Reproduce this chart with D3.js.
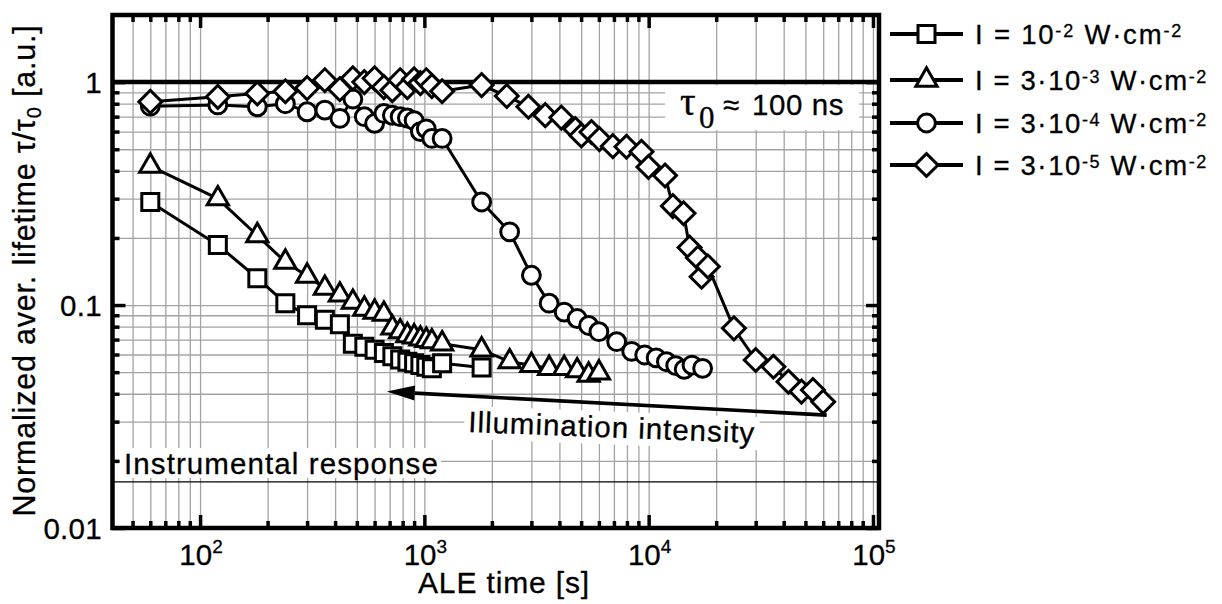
<!DOCTYPE html>
<html>
<head>
<meta charset="utf-8">
<script src="https://cdn.jsdelivr.net/npm/d3@7"></script>
<style>
  body { margin: 0; background: #fff; }
  svg { display: block; }
  text { font-family: "Liberation Sans", Arial, Helvetica, sans-serif; fill: #000; stroke: #000; stroke-width: 0.3px; }
</style>
</head>
<body>
<svg id="chart" width="1222" height="604"></svg>
<script>
// ---- data: normalized average lifetime vs. ALE time, four illumination intensities ----
const sqTime  = [60,120,180,240,300,360,420,480,540,600,660,720,780,840,900,960,1020,1080,1200,1800];
const sqValue = [0.290,0.186,0.132,0.102,0.090,0.086,0.082,0.067,0.065,0.063,0.061,0.059,0.057,0.0557,0.0548,0.0538,0.0529,0.052,0.0548,0.0525];

const triTime  = [60,120,180,240,300,360,420,480,540,600,660,720,780,840,900,960,1020,1080,1200,1800,2400,3000,3600,4200,4800,5400,6000];
const triValue = [0.42,0.30,0.205,0.156,0.135,0.119,0.111,0.103,0.096,0.093,0.091,0.079,0.076,0.073,0.072,0.0705,0.0695,0.0685,0.067,0.063,0.0557,0.0537,0.052,0.052,0.0508,0.0485,0.0497];

const cirTime  = [60,120,180,240,300,360,420,480,540,600,660,720,780,840,900,960,1020,1080,1200,1800,2400,3000,3600,4200,4800,5400,6000,7200,8400,9600,10800,12000,13200,14400,15600,17400];
const cirValue = [0.78,0.79,0.775,0.80,0.736,0.749,0.688,0.84,0.70,0.653,0.724,0.71,0.70,0.69,0.672,0.60,0.617,0.559,0.559,0.290,0.213,0.136,0.102,0.093,0.087,0.081,0.076,0.0685,0.062,0.0597,0.058,0.0557,0.0535,0.0515,0.0538,0.052];

const diaTime  = [60,120,180,240,300,360,420,480,540,600,660,720,780,840,900,960,1020,1080,1200,1800,2330,2910,3460,4080,4710,5010,5560,6030,6920,7960,9290,9980,11830,12820,14310,15220,16580,17220,18370,24000,30000,36000,42000,48000,54000,60000];
const diaValue = [0.816,0.859,0.889,0.91,0.94,1.02,0.93,1.04,1.0,1.04,0.95,0.92,1.02,0.95,1.03,0.99,1.02,0.96,0.91,0.97,0.866,0.775,0.711,0.693,0.616,0.576,0.597,0.555,0.516,0.513,0.487,0.416,0.381,0.278,0.258,0.181,0.163,0.134,0.149,0.0786,0.0567,0.0529,0.0453,0.0409,0.0416,0.0368];

const seriesPrefix   = ["I = ", "I = 3\u00b7", "I = 3\u00b7", "I = 3\u00b7"];
const seriesExponent = ["-2", "-3", "-4", "-5"];
const seriesSymbol   = ["square", "triangle", "circle", "diamond"];

const xMajorTicks  = [1e2, 1e3, 1e4, 1e5];
const xTickExp     = ["2", "3", "4", "5"];
const yMajorTicks  = [0.01, 0.1, 1];
const yTickLabels  = ["0.01", "0.1", "1"];

const tau0Level        = 1;
const instrumentLevel  = 0.0161;
// annotation anchors in data units
const instrumentTextAt = [45.8, 0.01747];
const tauTextAt        = [13800, 0.711];
const arrowFrom        = [62200, 0.0321];
const arrowTo          = [680, 0.0409];
const illumTextAt      = [1566, 0.02695];

// ---- layout ----
const plot = { left: 112.5, right: 879, top: 15, bottom: 528 };
const x = d3.scaleLog().domain([40.7, 1.064e5]).range([plot.left, plot.right]);
const y = d3.scaleLog().domain([0.01, 2]).range([plot.bottom, plot.top]);

const svg = d3.select("#chart");

function decadeValues(lo, hi, dom) {
  const out = [];
  for (let e = lo; e <= hi; e++)
    for (let m = 1; m <= 9; m++) {
      const v = +(m * Math.pow(10, e)).toPrecision(6);
      if (v > dom[0] * 1.0001 && v < dom[1] * 0.9999) out.push(v);
    }
  return out;
}
const xGrid = decadeValues(1, 5, x.domain());
const yGrid = decadeValues(-2, 0, y.domain());
const isMajor = v => Math.abs(Math.log10(v) - Math.round(Math.log10(v))) < 1e-6;

// ---- grid ----
const gridColor = "#a3a3a3";
svg.append("g")
  .attr("transform", `translate(0,${plot.bottom})`)
  .call(d3.axisBottom(x).tickValues(xGrid).tickSize(-(plot.bottom - plot.top)).tickFormat(""))
  .call(g => g.select(".domain").remove())
  .call(g => g.selectAll("line").attr("stroke", gridColor).attr("stroke-width", 1.3));
svg.append("g")
  .attr("transform", `translate(${plot.left},0)`)
  .call(d3.axisLeft(y).tickValues(yGrid).tickSize(-(plot.right - plot.left)).tickFormat(""))
  .call(g => g.select(".domain").remove())
  .call(g => g.selectAll("line").attr("stroke", gridColor).attr("stroke-width", 1.3));

// helper: spread letters so a text run spans a given width
function fitWidth(sel, target) {
  const node = sel.node();
  const w = node.getComputedTextLength();
  const n = node.getNumberOfChars();
  sel.style("letter-spacing", ((target - w) / n) + "px");
  return sel;
}

// ---- annotation boxes & texts (white background hides the grid) ----
const annot = svg.append("g");

// Instrumental response
const instrG = annot.append("g");
const instrText = instrG.append("text")
  .attr("x", x(instrumentTextAt[0])).attr("y", y(instrumentTextAt[1]))
  .attr("font-size", 29.5).text("Instrumental response");
fitWidth(instrText, 315);
{
  const b = instrText.node().getBBox();
  instrG.insert("rect", "text").attr("x", b.x - 4).attr("y", b.y + 1)
    .attr("width", b.width + 6).attr("height", b.height - 3).attr("fill", "#fff");
}

// tau0 label
const tauG = annot.append("g");
const tx = x(tauTextAt[0]), ty = y(tauTextAt[1]);
const tauText = tauG.append("text").attr("y", ty);
tauText.append("tspan").attr("x", tx).style("font-family", "'Liberation Serif','Times New Roman',serif")
  .attr("font-size", 39).text("\u03c4");
tauText.append("tspan").attr("x", tx + 19).attr("dy", 13).style("font-family", "'Liberation Serif','Times New Roman',serif")
  .attr("font-size", 31).text("0");
tauText.append("tspan").attr("x", tx + 43).attr("dy", -13).attr("font-size", 29.5).text("\u2248");
tauText.append("tspan").attr("x", tx + 72).attr("font-size", 29.5).style("letter-spacing", "0.6px").text("100 ns");
{
  const b = tauText.node().getBBox();
  tauG.insert("rect", "text").attr("x", b.x - 15).attr("y", y(tau0Level) + 3)
    .attr("width", b.width + 30).attr("height", 45).attr("fill", "#fff");
}

// ---- reference lines ----
svg.append("line")
  .attr("x1", plot.left).attr("x2", plot.right)
  .attr("y1", y(tau0Level)).attr("y2", y(tau0Level))
  .attr("stroke", "#000").attr("stroke-width", 4.5);
svg.append("line")
  .attr("x1", plot.left).attr("x2", plot.right)
  .attr("y1", y(instrumentLevel)).attr("y2", y(instrumentLevel))
  .attr("stroke", "#000").attr("stroke-width", 1.4);

// Illumination intensity label (slightly tilted) with white box
const illumG = svg.append("g")
  .attr("transform", `translate(${x(illumTextAt[0])},${y(illumTextAt[1])}) rotate(2.2)`);
const illumText = illumG.append("text").attr("x", 0).attr("y", 0)
  .attr("font-size", 29.5).text("Illumination intensity");
fitWidth(illumText, 287);
{
  const b = illumText.node().getBBox();
  illumG.insert("rect", "text").attr("x", b.x - 4).attr("y", b.y + 1)
    .attr("width", b.width + 8).attr("height", b.height).attr("fill", "#fff");
}

// arrow
{
  const x1 = x(arrowFrom[0]), y1 = y(arrowFrom[1]);
  const x2 = x(arrowTo[0]), y2 = y(arrowTo[1]);
  const ang = Math.atan2(y2 - y1, x2 - x1);
  const headLen = 28, headHalf = 7.5;
  const bx = x2 - headLen * Math.cos(ang), by = y2 - headLen * Math.sin(ang);
  svg.append("line").attr("x1", x1).attr("y1", y1).attr("x2", bx).attr("y2", by)
    .attr("stroke", "#000").attr("stroke-width", 3.6);
  const px = -Math.sin(ang), py = Math.cos(ang);
  svg.append("path")
    .attr("d", `M${x2},${y2}L${bx + px * headHalf},${by + py * headHalf}L${bx - px * headHalf},${by - py * headHalf}Z`)
    .attr("fill", "#000");
}

// ---- series ----
const symbolPath = {
  square:   d3.symbol().type(d3.symbolSquare).size(289)(),
  triangle: d3.symbol().type(d3.symbolTriangle).size(195)(),
  circle:   d3.symbol().type(d3.symbolCircle).size(250)(),
  diamond:  d3.symbol().type(d3.symbolSquare).size(262)()
};
const symbolRotate = { square: 0, triangle: 0, circle: 0, diamond: 45 };

const series = [
  { t: sqTime,  v: sqValue },
  { t: triTime, v: triValue },
  { t: cirTime, v: cirValue },
  { t: diaTime, v: diaValue }
];

const line = d3.line().x(d => x(d[0])).y(d => y(d[1]));

series.forEach((s, i) => {
  const pts = s.t.map((t, k) => [t, s.v[k]]);
  const g = svg.append("g");
  g.append("path").datum(pts).attr("d", line)
    .attr("fill", "none").attr("stroke", "#000").attr("stroke-width", 3).attr("stroke-linejoin", "round");
  g.selectAll("path.mk").data(pts).join("path").attr("class", "mk")
    .attr("d", symbolPath[seriesSymbol[i]])
    .attr("transform", d => `translate(${x(d[0])},${y(d[1])}) rotate(${symbolRotate[seriesSymbol[i]]})`)
    .attr("fill", "#fff").attr("stroke", "#000").attr("stroke-width", 3);
});

// ---- ticks (inward on all four sides) ----
const xMinor = xGrid.filter(v => !isMajor(v));
const yMinor = yGrid.filter(v => !isMajor(v));
function tickGroup(axisGen, transform) {
  svg.append("g").attr("transform", transform).call(axisGen)
    .call(g => g.select(".domain").remove())
    .call(g => g.selectAll("line").attr("stroke", "#000").attr("stroke-width", 3.5));
}
tickGroup(d3.axisBottom(x).tickValues(xMinor).tickSize(-7).tickFormat(""), `translate(0,${plot.bottom})`);
tickGroup(d3.axisBottom(x).tickValues(xMajorTicks).tickSize(-13).tickFormat(""), `translate(0,${plot.bottom})`);
tickGroup(d3.axisTop(x).tickValues(xMinor).tickSize(-7).tickFormat(""), `translate(0,${plot.top})`);
tickGroup(d3.axisTop(x).tickValues(xMajorTicks).tickSize(-13).tickFormat(""), `translate(0,${plot.top})`);
tickGroup(d3.axisLeft(y).tickValues(yMinor).tickSize(-7).tickFormat(""), `translate(${plot.left},0)`);
tickGroup(d3.axisLeft(y).tickValues(yMajorTicks).tickSize(-13).tickFormat(""), `translate(${plot.left},0)`);
tickGroup(d3.axisRight(y).tickValues(yMinor).tickSize(-7).tickFormat(""), `translate(${plot.right},0)`);
tickGroup(d3.axisRight(y).tickValues(yMajorTicks).tickSize(-13).tickFormat(""), `translate(${plot.right},0)`);

// frame
svg.append("rect")
  .attr("x", plot.left).attr("y", plot.top)
  .attr("width", plot.right - plot.left).attr("height", plot.bottom - plot.top)
  .attr("fill", "none").attr("stroke", "#000").attr("stroke-width", 4.5);

// ---- tick labels ----
xMajorTicks.forEach((v, i) => {
  const t = svg.append("text").attr("x", x(v) + 1).attr("y", plot.bottom + 37)
    .attr("text-anchor", "middle").attr("font-size", 29.5);
  t.append("tspan").text("10");
  t.append("tspan").attr("font-size", 19).attr("dy", -12).text(xTickExp[i]);
});
yMajorTicks.forEach((v, i) => {
  svg.append("text").attr("x", 102).attr("y", y(v) + 10.5)
    .attr("text-anchor", "end").attr("font-size", 29.5).style("letter-spacing", "0.3px").text(yTickLabels[i]);
});

// ---- axis titles ----
const xTitle = svg.append("text").attr("x", 504).attr("y", 593)
  .attr("text-anchor", "middle").attr("font-size", 30).text("ALE time [s]");
fitWidth(xTitle, 172);

const yTitle = svg.append("text")
  .attr("transform", `translate(35,${(plot.top + plot.bottom) / 2 - 1}) rotate(-90)`)
  .attr("text-anchor", "middle").attr("font-size", 30.5);
yTitle.append("tspan").text("Normalized aver. lifetime \u03c4/\u03c4");
yTitle.append("tspan").attr("font-size", 20).attr("dy", 6).text("0");
yTitle.append("tspan").attr("dy", -6).text(" [a.u.]");
fitWidth(yTitle, 492);

// ---- legend ----
const legendRows = [34, 80, 123, 165];
const legendWidths = [208, 233, 233, 233];
seriesSymbol.forEach((sym, i) => {
  const cy = legendRows[i];
  const g = svg.append("g");
  g.append("line").attr("x1", 890).attr("x2", 963).attr("y1", cy).attr("y2", cy)
    .attr("stroke", "#000").attr("stroke-width", 4);
  g.append("path").attr("d", symbolPath[sym])
    .attr("transform", `translate(926.5,${cy}) rotate(${symbolRotate[sym]})`)
    .attr("fill", "#fff").attr("stroke", "#000").attr("stroke-width", 3);
  const t = g.append("text").attr("x", 975).attr("y", cy + 9.5).attr("font-size", 27.5);
  t.append("tspan").text(seriesPrefix[i] + "10");
  t.append("tspan").attr("font-size", 18).attr("dy", -7).text(seriesExponent[i]);
  t.append("tspan").attr("dy", 7).text(" W\u00b7cm");
  t.append("tspan").attr("font-size", 18).attr("dy", -7).text("-2");
  fitWidth(t, legendWidths[i]);
});
</script>
</body>
</html>
